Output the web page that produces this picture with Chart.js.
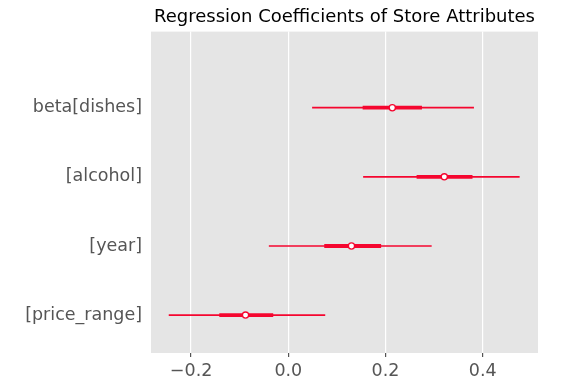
<!DOCTYPE html>
<html>
<head>
<meta charset="utf-8">
<script src="https://cdn.jsdelivr.net/npm/chart.js@4.4.0/dist/chart.umd.min.js"></script>
<style>
  html, body { margin: 0; padding: 0; background: #ffffff; }
  #wrap { width: 561px; height: 389px; }
</style>
</head>
<body>
<div id="wrap"><canvas id="forestChart" width="561" height="389"></canvas></div>
<script>
    // 변수 이름 (위에서부터)
    const labels = ['beta[dishes]', '[alcohol]', '[year]', '[price_range]'];
    // 사후분포 중앙값
    const medians = [0.214, 0.321, 0.130, -0.088];
    // 94% HDI (얇은 선)
    const hdiLow = [0.049, 0.154, -0.040, -0.246];
    const hdiHigh = [0.382, 0.476, 0.295, 0.076];
    // 50% 구간 (두꺼운 선)
    const iqrLow = [0.153, 0.264, 0.074, -0.142];
    const iqrHigh = [0.275, 0.379, 0.191, -0.031];
    // x축 눈금
    const xTicks = [-0.2, 0.0, 0.2, 0.4];

    const red = '#f5062f';
    const fontFamily = '"DejaVu Sans", sans-serif';

    function rowY(i) {
        return labels.length - 1 - i;
    }

    // 플롯 영역 배경 (ggplot 스타일 회색)
    const plotBackground = {
        id: 'plotBackground',
        beforeDraw(chart) {
            const a = chart.chartArea;
            const ctx = chart.ctx;
            ctx.save();
            ctx.fillStyle = '#e5e5e5';
            ctx.fillRect(a.left, a.top, a.right - a.left, a.bottom - a.top);
            ctx.restore();
        }
    };

    // 중앙값 점은 맨 위에 그려지도록 order 0
    const datasets = [{
        data: medians.map((m, i) => ({x: m, y: rowY(i)})),
        order: 0,
        showLine: false,
        pointRadius: 3.1,
        pointBackgroundColor: '#ffffff',
        pointBorderColor: red,
        pointBorderWidth: 1.3
    }];
    labels.forEach((name, i) => {
        datasets.push({
            data: [{x: hdiLow[i], y: rowY(i)}, {x: hdiHigh[i], y: rowY(i)}],
            order: 2,
            showLine: true,
            borderColor: red,
            borderWidth: 1.7,
            borderCapStyle: 'butt',
            pointRadius: 0
        });
        datasets.push({
            data: [{x: iqrLow[i], y: rowY(i)}, {x: iqrHigh[i], y: rowY(i)}],
            order: 1,
            showLine: true,
            borderColor: red,
            borderWidth: 3.8,
            borderCapStyle: 'butt',
            pointRadius: 0
        });
    });

    const ctx = document.getElementById('forestChart').getContext('2d');
    new Chart(ctx, {
        type: 'scatter',
        data: { datasets: datasets },
        plugins: [plotBackground],
        options: {
            responsive: false,
            animation: false,
            layout: { padding: { left: 0, right: 23, top: 0, bottom: 0 } },
            scales: {
                x: {
                    type: 'linear',
                    min: -0.2825,
                    max: 0.5138,
                    afterBuildTicks(scale) {
                        scale.ticks = xTicks.map(v => ({ value: v }));
                    },
                    afterFit(scale) {
                        scale.height = 36;
                    },
                    border: { display: false },
                    grid: {
                        color: '#ffffff',
                        lineWidth: 1.2,
                        tickColor: '#555555',
                        tickLength: 4
                    },
                    ticks: {
                        color: '#555555',
                        padding: 4,
                        font: { family: fontFamily, size: 17.5 },
                        callback: function (v) {
                            return v < 0 ? '\u2212' + Math.abs(v).toFixed(1) : v.toFixed(1);
                        }
                    }
                },
                y: {
                    type: 'linear',
                    min: -0.548,
                    max: 4.101,
                    afterBuildTicks(scale) {
                        scale.ticks = labels.map((l, i) => ({ value: rowY(i) }));
                    },
                    afterFit(scale) {
                        scale.width = 151;
                    },
                    border: { display: false },
                    grid: { display: false },
                    ticks: {
                        color: '#555555',
                        padding: 1,
                        font: { family: fontFamily, size: 17.5 },
                        callback: function (v) {
                            return labels[labels.length - 1 - v];
                        }
                    }
                }
            },
            plugins: {
                legend: { display: false },
                tooltip: { enabled: false },
                title: {
                    display: true,
                    fullSize: false,
                    text: 'Regression Coefficients of Store Attributes',
                    color: '#000000',
                    font: { family: fontFamily, size: 18, weight: 'normal' },
                    padding: { top: 7, bottom: 3 }
                }
            }
        }
    });
</script>
</body>
</html>
